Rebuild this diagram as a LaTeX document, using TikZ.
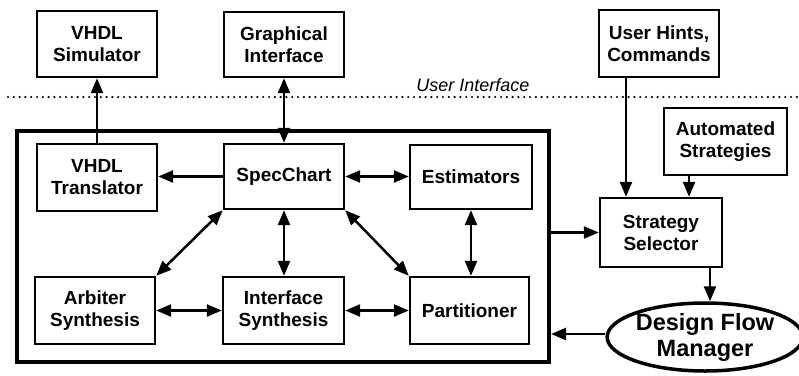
\documentclass[tikz,border=0pt]{standalone}
\usepackage{fontspec}
\setmainfont{Liberation Sans}
\usetikzlibrary{arrows.meta,shapes.geometric}
\begin{document}
\begin{tikzpicture}[x=1bp,y=-1bp,
  box/.style={draw,line width=2.4bp,inner sep=0pt,align=center,
    font=\bfseries\fontsize{19bp}{22bp}\selectfont},
  frame/.style={draw,line width=4bp,inner sep=0pt},
  tip/.tip={Triangle[length=15bp,width=12bp]},
  arr/.style={line width=2.5bp,-tip},
  darr/.style={line width=2.5bp,tip-tip}]
\useasboundingbox (0,0) rectangle (799,375);
% dotted separator
\coordinate (dl) at (8,97);
\coordinate (dr) at (797,97);
\draw[line width=2.4bp,dash pattern=on 0bp off 5.8bp,line cap=round] (dl) -- (dr);
\node[font=\itshape\fontsize{18bp}{20bp}\selectfont,inner sep=0pt] (ui) at (473,85) {User Interface};
% frame
\node[frame,minimum width=532bp,minimum height=231bp] (frame) at (283,246.5) {};
% boxes
\node[box,minimum width=120bp,minimum height=66bp] (vs) at (97,44) {VHDL\\Simulator};
\node[box,minimum width=120bp,minimum height=65bp] (gi) at (284,44.5) {Graphical\\Interface};
\node[box,minimum width=120bp,minimum height=67bp] (uh) at (659,43.5) {User Hints,\\Commands};
\node[box,minimum width=123bp,minimum height=67bp] (as) at (725.5,141.5) {Automated\\Strategies};
\node[box,minimum width=120bp,minimum height=67bp] (vt) at (97,177.5) {VHDL\\Translator};
\node[box,minimum width=120bp,minimum height=65bp] (sc) at (284,176.5) {SpecChart};
\node[box,minimum width=122bp,minimum height=64bp] (es) at (471,177) {Estimators};
\node[box,minimum width=120bp,minimum height=67bp] (ab) at (95,310.5) {Arbiter\\Synthesis};
\node[box,minimum width=121bp,minimum height=67bp] (is) at (283.5,310.5) {Interface\\Synthesis};
\node[box,minimum width=119bp,minimum height=67bp] (pt) at (469.5,310.5) {Partitioner};
\node[box,minimum width=122bp,minimum height=69bp] (sel) at (661,232.5) {Strategy\\Selector};
\node[ellipse,draw,line width=3.5bp,inner sep=0pt,minimum width=184bp,minimum height=68bp,
  align=center,font=\bfseries\fontsize{23.5bp}{26bp}\selectfont] (dfm) at (705,337) {Design Flow\\Manager};
% connectors
\draw[arr] (vt.north) -- (vs.south);
\draw[darr] (gi.south) -- (sc.north);
\draw[arr] (sc.west) -- (sc.west -| vt.east);
\draw[darr] (sc.east) -- (sc.east -| es.west);
\draw[darr] (sc.south west) -- (ab.north east);
\draw[darr] (sc.south) -- (sc.south |- is.north);
\draw[darr] (sc.south east) -- (pt.north west);
\draw[darr] (es.south) -- (es.south |- pt.north);
\draw[darr] (ab.east) -- (ab.east -| is.west);
\draw[darr] (is.east) -- (is.east -| pt.west);
\draw[arr] (frame.east |- sel.west) -- (sel.west);
\draw[arr] ([xshift=-33bp]uh.south) -- ([xshift=-33bp]uh.south |- sel.north);
\draw[arr] ([xshift=-36.5bp]as.south) -- ([xshift=-36.5bp]as.south |- sel.north);
\draw[arr] ([xshift=49bp]sel.south) -- ([xshift=49bp]sel.south |- dfm.north);
\draw[arr] ([yshift=3bp]dfm.west) -- ([yshift=3bp]dfm.west -| frame.east);
\end{tikzpicture}
\end{document}
